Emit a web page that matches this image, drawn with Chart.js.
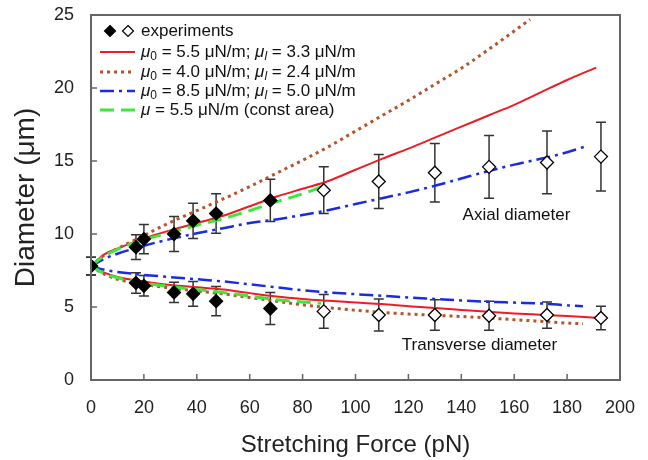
<!DOCTYPE html>
<html>
<head>
<meta charset="utf-8">
<script src="https://cdn.jsdelivr.net/npm/chart.js@4.4.1/dist/chart.umd.min.js"></script>
<style>
  body { margin: 0; background: #fff; }
  #wrap { width: 648px; height: 460px; }
</style>
</head>
<body>
<div id="wrap"><canvas id="fig" width="648" height="460"></canvas></div>
<script>
// ---- data ----
var forceFilled = [0, 17, 20, 31.4, 38.6, 47.3, 67.8];
var forceOpen   = [88, 108.8, 130, 150.5, 172.4, 192.8];

var axialFilled     = [7.8, 9.1, 9.65, 10.0, 10.9, 11.4, 12.3];
var axialFilledErr  = [0.6, 0.85, 1.0, 1.2, 1.2, 1.35, 1.45];
var axialOpen       = [13.0, 13.6, 14.2, 14.6, 14.9, 15.3];
var axialOpenErr    = [1.6, 1.85, 2.0, 2.15, 2.15, 2.35];

var transFilled     = [7.8, 6.65, 6.45, 6.0, 5.9, 5.4, 4.9];
var transFilledErr  = [0.6, 0.7, 0.7, 0.7, 0.85, 1.0, 1.1];
var transOpen       = [4.7, 4.45, 4.45, 4.4, 4.45, 4.25];
var transOpenErr    = [1.15, 1.1, 1.05, 1.0, 0.9, 0.8];

// model curves (mu0 = 5.5, mul = 3.3)
var redX      = [0, 5, 10, 20, 30, 40, 50, 60, 70, 80, 90, 100, 110, 120, 130, 140, 150, 160, 170, 180, 191];
var redAxial  = [7.8, 8.6, 9.0, 9.7, 10.25, 10.75, 11.25, 11.9, 12.55, 13.1, 13.65, 14.4, 15.15, 15.85, 16.6, 17.35, 18.1, 18.85, 19.7, 20.55, 21.4];
var redTransX = [0, 5, 10, 20, 30, 40, 50, 60, 70, 80, 90, 100, 110, 120, 130, 140, 150, 160, 170, 180, 192];
var redTrans  = [7.8, 7.35, 7.05, 6.75, 6.5, 6.35, 6.2, 5.95, 5.72, 5.55, 5.42, 5.3, 5.2, 5.05, 4.93, 4.8, 4.67, 4.56, 4.47, 4.38, 4.25];

// mu0 = 4.0, mul = 2.4
var brownAxX   = [0, 5, 10, 20, 30, 40, 50, 60, 70, 80, 90, 100, 110, 120, 130, 140, 150, 160, 166];
var brownAxial = [7.8, 8.55, 9.0, 9.9, 10.8, 11.6, 12.4, 13.25, 14.15, 15.05, 16.0, 17.05, 18.1, 19.15, 20.25, 21.35, 22.6, 23.9, 24.7];
var brownTrX   = [0, 5, 10, 20, 30, 40, 50, 60, 70, 80, 90, 100, 110, 120, 130, 140, 150, 160, 170, 180, 186];
var brownTrans = [7.8, 7.25, 6.9, 6.55, 6.3, 6.1, 5.9, 5.65, 5.4, 5.15, 4.95, 4.78, 4.63, 4.52, 4.43, 4.35, 4.25, 4.13, 4.02, 3.9, 3.85];

// mu0 = 8.5, mul = 5.0
var blueX      = [0, 5, 10, 20, 30, 40, 50, 60, 70, 80, 90, 100, 110, 120, 130, 140, 150, 160, 170, 180, 187];
var blueAxial  = [7.8, 8.3, 8.65, 9.2, 9.65, 10.05, 10.4, 10.75, 11.0, 11.3, 11.65, 12.05, 12.45, 12.85, 13.3, 13.8, 14.3, 14.75, 15.15, 15.6, 16.0];
var blueTransX = [0, 5, 10, 20, 30, 40, 50, 60, 70, 80, 90, 100, 110, 120, 130, 140, 150, 160, 170, 180, 186];
var blueTrans  = [7.8, 7.55, 7.4, 7.2, 7.05, 6.9, 6.75, 6.55, 6.35, 6.15, 6.0, 5.88, 5.77, 5.65, 5.55, 5.45, 5.36, 5.3, 5.24, 5.12, 5.05];

// mu = 5.5 const area
var greenX      = [0, 5, 10, 20, 30, 40, 50, 60, 70, 80, 88];
var greenAxial  = [7.8, 8.5, 8.95, 9.6, 10.1, 10.6, 11.05, 11.6, 12.2, 12.75, 13.3];
var greenTransX = [0, 5, 10, 20, 30, 40, 50, 60, 70, 80, 87];
var greenTrans  = [7.8, 7.3, 7.0, 6.65, 6.4, 6.2, 6.0, 5.75, 5.5, 5.35, 5.25];

var xTicks = [0, 20, 40, 60, 80, 100, 120, 140, 160, 180, 200];
var yTicks = [0, 5, 10, 15, 20, 25];

var mu0Values = ['5.5', '4.0', '8.5'];
var mulValues = ['3.3', '2.4', '5.0'];

// ---- helpers ----
function pts(xs, ys) {
  var out = [];
  for (var i = 0; i < xs.length; i++) out.push({x: xs[i], y: ys[i]});
  return out;
}

var RED = '#ee1c24', BROWN = '#b5532b', BLUE = '#1a2be0', GREEN = '#3ee83a';
var FONT = '"Liberation Sans", Arial, sans-serif';

function modelLine(label, xs, ys, color, dash, width) {
  return {
    label: label, data: pts(xs, ys), showLine: true, borderColor: color,
    borderWidth: width, borderDash: dash, pointRadius: 0, fill: false,
    tension: 0.4, cubicInterpolationMode: 'monotone'
  };
}
function expSet(label, xs, ys, errs, filled) {
  return {
    label: label, data: pts(xs, ys), errors: errs, showLine: false,
    pointStyle: 'rectRot', pointRadius: 6.5,
    pointBackgroundColor: filled ? '#000' : '#fff',
    pointBorderColor: '#000', pointBorderWidth: 1.3
  };
}

function drawDiamond(ctx, x, y, r, filled) {
  ctx.beginPath();
  ctx.moveTo(x, y - r); ctx.lineTo(x + r, y); ctx.lineTo(x, y + r); ctx.lineTo(x - r, y);
  ctx.closePath();
  ctx.fillStyle = filled ? '#000' : '#fff';
  ctx.fill();
  ctx.lineWidth = 1.2; ctx.strokeStyle = '#000';
  ctx.stroke();
}

// error bars behind the markers
var errorBars = {
  id: 'errorBars',
  beforeDatasetsDraw: function(chart) {
    var ctx = chart.ctx, xs = chart.scales.x, ys = chart.scales.y;
    ctx.save();
    ctx.strokeStyle = '#333'; ctx.lineWidth = 1.5;
    chart.data.datasets.forEach(function(ds) {
      if (!ds.errors) return;
      ds.data.forEach(function(p, i) {
        var px = xs.getPixelForValue(p.x);
        var top = ys.getPixelForValue(p.y + ds.errors[i]);
        var bot = ys.getPixelForValue(p.y - ds.errors[i]);
        ctx.beginPath();
        ctx.moveTo(px, top); ctx.lineTo(px, bot);
        ctx.moveTo(px - 5, top); ctx.lineTo(px + 5, top);
        ctx.moveTo(px - 5, bot); ctx.lineTo(px + 5, bot);
        ctx.stroke();
      });
    });
    ctx.restore();
  }
};

// frame, inward ticks, legend, annotations
var decor = {
  id: 'decor',
  afterDraw: function(chart) {
    var ctx = chart.ctx, a = chart.chartArea, xs = chart.scales.x, ys = chart.scales.y;
    ctx.save();
    ctx.strokeStyle = '#666'; ctx.lineWidth = 2;
    ctx.strokeRect(a.left, a.top, a.right - a.left, a.bottom - a.top);
    ctx.lineWidth = 1.5;
    ctx.beginPath();
    xTicks.forEach(function(v) {
      var px = xs.getPixelForValue(v);
      ctx.moveTo(px, a.bottom); ctx.lineTo(px, a.bottom - 6);
    });
    yTicks.forEach(function(v) {
      var py = ys.getPixelForValue(v);
      ctx.moveTo(a.left, py); ctx.lineTo(a.left + 6, py);
    });
    ctx.stroke();

    // legend
    var lx0 = 100, lx1 = 135, tx = 141;
    var rowsY = [31, 52, 72, 91, 110];
    ctx.textBaseline = 'middle';
    drawDiamond(ctx, 110, rowsY[0], 5.5, true);
    drawDiamond(ctx, 128, rowsY[0], 5.5, false);
    ctx.fillStyle = '#111';
    ctx.font = '17px ' + FONT;
    ctx.fillText('experiments', tx, rowsY[0]);

    var lineSets = chart.data.datasets.filter(function(d) { return d.legendRow; });
    lineSets.sort(function(p, q) { return p.legendRow - q.legendRow; });
    lineSets.forEach(function(d) {
      var y = rowsY[d.legendRow];
      ctx.save();
      ctx.strokeStyle = d.borderColor; ctx.lineWidth = d.borderWidth;
      ctx.setLineDash(d.borderDash || []);
      ctx.beginPath(); ctx.moveTo(lx0, y); ctx.lineTo(lx1, y); ctx.stroke();
      ctx.restore();
      var x = tx;
      d.legendText.forEach(function(seg) {
        var size = seg.sub ? 12 : 17;
        ctx.font = (seg.it ? 'italic ' : '') + size + 'px ' + FONT;
        ctx.fillStyle = '#111';
        ctx.fillText(seg.t, x, y + (seg.sub ? 5 : 0));
        x += ctx.measureText(seg.t).width;
      });
    });

    ctx.font = '17px ' + FONT;
    ctx.fillStyle = '#111';
    ctx.textBaseline = 'middle';
    ctx.fillText('Axial diameter', xs.getPixelForValue(140.5), ys.getPixelForValue(11.3));
    ctx.fillText('Transverse diameter', xs.getPixelForValue(117.5), ys.getPixelForValue(2.35));
    ctx.restore();
  }
};

function muText(i) {
  return [
    {t: '\u03bc', it: true}, {t: '0', sub: true}, {t: ' = ' + mu0Values[i] + ' \u03bcN/m; '},
    {t: '\u03bc', it: true}, {t: 'l', sub: true, it: true}, {t: ' = ' + mulValues[i] + ' \u03bcN/m'}
  ];
}

var redA = modelLine('red axial', redX, redAxial, RED, [], 2);
var redT = modelLine('red transverse', redTransX, redTrans, RED, [], 2);
var brA = modelLine('brown axial', brownAxX, brownAxial, BROWN, [3, 4], 3);
var brT = modelLine('brown transverse', brownTrX, brownTrans, BROWN, [3, 4], 3);
var blA = modelLine('blue axial', blueX, blueAxial, BLUE, [14, 5, 3, 5], 2.5);
var blT = modelLine('blue transverse', blueTransX, blueTrans, BLUE, [14, 5, 3, 5], 2.5);
var grA = modelLine('green axial', greenX, greenAxial, GREEN, [14, 7], 3);
var grT = modelLine('green transverse', greenTransX, greenTrans, GREEN, [14, 7], 3);

redA.legendRow = 1; redA.legendText = muText(0);
brA.legendRow = 2;  brA.legendText = muText(1);
blA.legendRow = 3;  blA.legendText = muText(2);
grA.legendRow = 4;
grA.legendText = [{t: '\u03bc', it: true}, {t: ' = 5.5 \u03bcN/m (const area)'}];

var config = {
  type: 'scatter',
  data: {
    datasets: [
      expSet('axial filled', forceFilled, axialFilled, axialFilledErr, true),
      expSet('transverse filled', forceFilled, transFilled, transFilledErr, true),
      expSet('axial open', forceOpen, axialOpen, axialOpenErr, false),
      expSet('transverse open', forceOpen, transOpen, transOpenErr, false),
      grA, grT, blA, blT, brA, brT, redA, redT
    ]
  },
  options: {
    responsive: false,
    animation: false,
    layout: { padding: { top: 15, right: 28, left: 0, bottom: 0 } },
    plugins: { legend: { display: false }, tooltip: { enabled: false } },
    scales: {
      x: {
        type: 'linear', min: 0, max: 200,
        afterFit: function(s) { s.height = 80; s.paddingLeft = 0; s.paddingRight = 0; },
        afterBuildTicks: function(s) { s.ticks = xTicks.map(function(v) { return {value: v}; }); },
        grid: { display: false, drawTicks: false },
        border: { display: true, color: '#666', width: 2 },
        ticks: { color: '#222', padding: 17, font: { size: 18, family: FONT }, maxRotation: 0 },
        title: { display: true, text: 'Stretching Force (pN)', color: '#222',
                 font: { size: 24, family: FONT }, padding: { top: 6, bottom: 0 } }
      },
      y: {
        type: 'linear', min: 0, max: 25,
        afterFit: function(s) { s.width = 91; s.paddingTop = 0; s.paddingBottom = 0; },
        afterBuildTicks: function(s) { s.ticks = yTicks.map(function(v) { return {value: v}; }); },
        grid: { display: false, drawTicks: false },
        border: { display: true, color: '#666', width: 2 },
        ticks: { color: '#222', padding: 17, font: { size: 18, family: FONT } },
        title: { display: true, text: 'Diameter (\u03bcm)', color: '#222',
                 font: { size: 28, family: FONT }, padding: { top: 9, bottom: 0 } }
      }
    }
  },
  plugins: [errorBars, decor]
};

new Chart(document.getElementById('fig').getContext('2d'), config);
</script>
</body>
</html>
